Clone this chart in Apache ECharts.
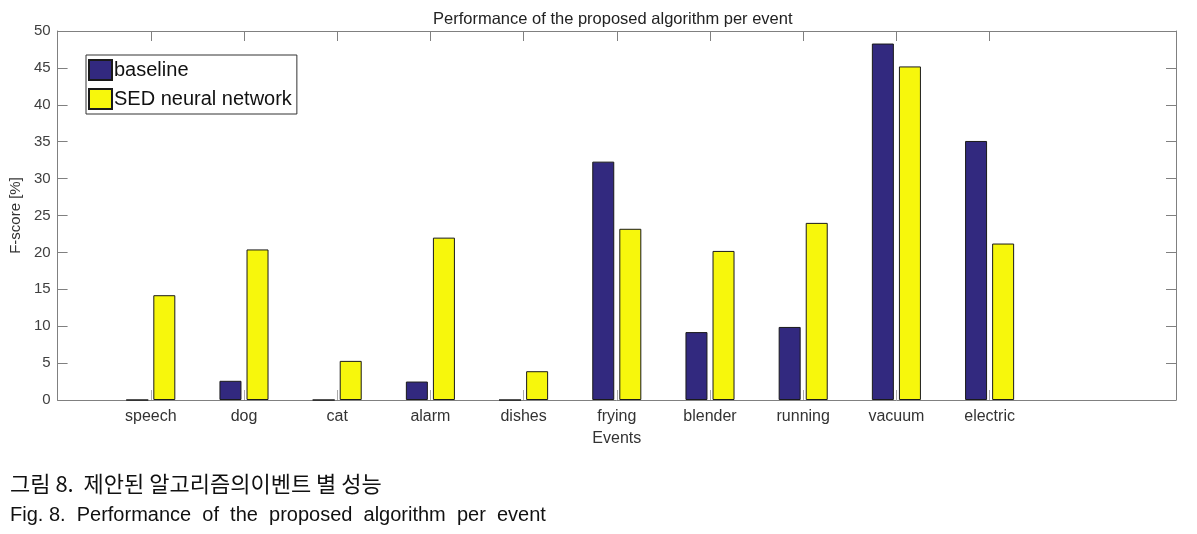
<!DOCTYPE html>
<html><head><meta charset="utf-8">
<script src="https://cdn.jsdelivr.net/npm/echarts@6/dist/echarts.min.js"></script>
<style>html,body{margin:0;padding:0;background:#fff}#c{width:1197px;height:534px}</style>
</head><body><div id="c"></div>
<script>
const categories = ['', 'speech', 'dog', 'cat', 'alarm', 'dishes', 'frying', 'blender', 'running', 'vacuum', 'electric', '', ''];
const baseline = [null, 0, 2.6, 0, 2.5, 0, 32.3, 9.2, 9.9, 48.3, 35.1, null, null];
const sedNN = [null, 14.2, 20.4, 5.3, 22.0, 3.9, 23.2, 20.2, 24.0, 45.2, 21.2, null, null];
const yTicks = [0, 5, 10, 15, 20, 25, 30, 35, 40, 45, 50];

const chart = echarts.init(document.getElementById('c'));
const axisGray = '#808080';
const tickOn = (i) => i >= 1 && i <= 10;
chart.setOption({
  animation: false,
  title: {
    text: 'Performance of the proposed algorithm per event',
    left: 428, top: 6,
    textStyle: { fontFamily: 'Liberation Sans', fontSize: 16.5, fontWeight: 'normal', color: '#222' }
  },
  legend: {
    orient: 'vertical', left: 86, top: 55,
    backgroundColor: '#fff',
    borderColor: '#333', borderWidth: 1,
    padding: [4, 5, 4, 2],
    itemWidth: 23, itemHeight: 20, itemGap: 7,
    icon: 'rect',
    textStyle: { fontFamily: 'Liberation Sans', fontSize: 20, color: '#111', padding: [0, 0, 0, -3] },
    data: ['baseline', 'SED neural network']
  },
  grid: { left: 55, right: 21, top: 31, bottom: 134, containLabel: false },
  xAxis: [{
    type: 'category', data: categories, boundaryGap: false,
    name: 'Events', nameLocation: 'middle', nameGap: 31,
    nameTextStyle: { fontFamily: 'Liberation Sans', fontSize: 16, color: '#333' },
    axisLine: { onZero: false, lineStyle: { color: axisGray, width: 1 } },
    axisTick: { inside: true, length: 10, interval: tickOn, lineStyle: { color: '#aaa' } },
    axisLabel: { interval: 0, margin: 9, fontFamily: 'Liberation Sans', fontSize: 16, color: '#333' },
    splitLine: { show: false }
  }, {
    type: 'category', data: categories, boundaryGap: false, position: 'top',
    axisLine: { onZero: false, lineStyle: { color: axisGray, width: 1 } },
    axisTick: { inside: true, length: 10, interval: tickOn, lineStyle: { color: axisGray } },
    axisLabel: { show: false }
  }],
  yAxis: [{
    type: 'value', min: 0, max: 50, interval: 5,
    name: 'F-score [%]', nameLocation: 'middle', nameGap: 30, nameRotate: 90,
    nameTextStyle: { fontFamily: 'Liberation Sans', fontSize: 15, color: '#333' },
    axisLine: { show: true, onZero: false, lineStyle: { color: axisGray, width: 1 } },
    axisTick: { show: true, inside: true, length: 10, lineStyle: { color: axisGray } },
    axisLabel: { margin: 7, fontFamily: 'Liberation Sans', fontSize: 15, color: '#404040',
      formatter: (v) => yTicks.includes(v) ? String(v) : '' },
    splitLine: { show: false }
  }, {
    type: 'value', min: 0, max: 50, interval: 5, position: 'right',
    axisLine: { show: true, onZero: false, lineStyle: { color: axisGray, width: 1 } },
    axisTick: { show: true, inside: true, length: 10, lineStyle: { color: axisGray } },
    axisLabel: { show: false },
    splitLine: { show: false }
  }],
  series: [{
    name: 'baseline', type: 'bar', data: baseline, barWidth: 22, barGap: '23%',
    itemStyle: { color: '#32297f', borderColor: '#1a1a1a', borderWidth: 1 }
  }, {
    name: 'SED neural network', type: 'bar', data: sedNN, barWidth: 22,
    itemStyle: { color: '#f7f70c', borderColor: '#1a1a1a', borderWidth: 1 }
  }],
  graphic: [{
    type: 'text', left: 10, top: 473,
    style: { text: '그림 8.  제안된 알고리즘의이벤트 별 성능', font: '22px "Noto Sans CJK KR"', fill: '#111' }
  }, {
    type: 'text', left: 10, top: 505,
    style: { text: 'Fig. 8.  Performance  of  the  proposed  algorithm  per  event', font: '20px "Liberation Sans"', fill: '#111' }
  }]
});
</script></body></html>
